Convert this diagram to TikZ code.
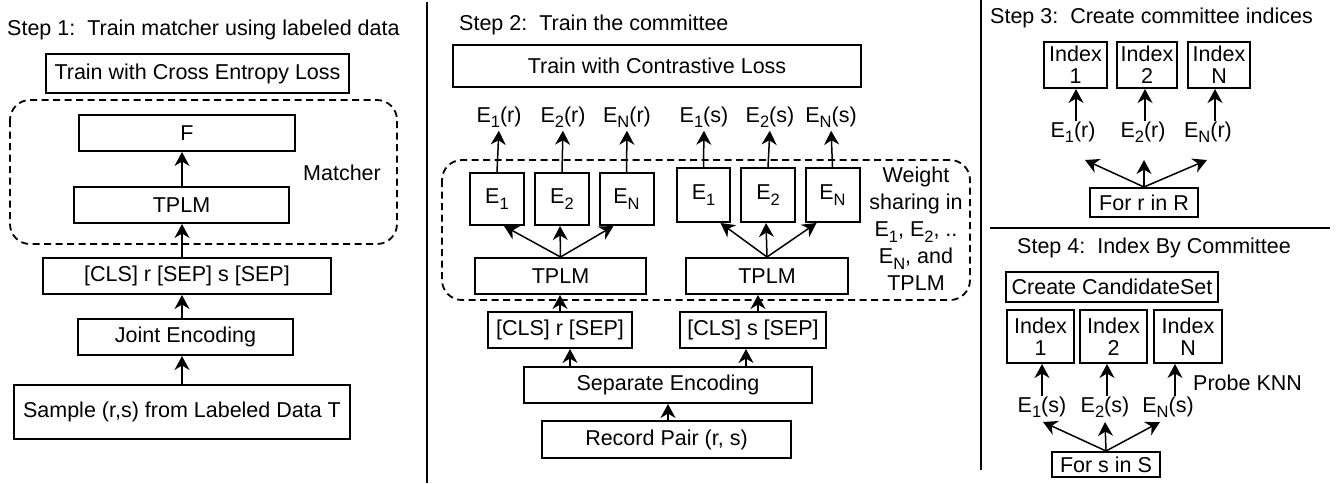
\documentclass[tikz,border=0pt]{standalone}
\usepackage{fontspec}
\setmainfont{Liberation Sans}
\usetikzlibrary{arrows.meta,calc}
\newcommand\sbs[1]{\raisebox{-5.5pt}{\fontsize{16.5}{16.5}\selectfont #1}}
\newcommand\mybox[6]{\node[box,minimum width=#4pt,minimum height=#5pt] (#1) at (#2,#3) {#6};}
\begin{document}
\begin{tikzpicture}[x=1pt,y=-1pt,
 font=\fontsize{21.5}{22}\selectfont,
 box/.style={draw,line width=2pt,inner sep=0pt,align=center},
 lbl/.style={inner sep=0pt},
 arr/.style={line width=1.5pt,-{Stealth[length=14pt,width=15pt,inset=4.5pt]}},
 dbox/.style={draw,line width=1.8pt,dash pattern=on 7pt off 4.5pt,rounded corners=20pt},
 divider/.style={line width=2.2pt}]
\useasboundingbox (0,0) rectangle (1338,483);

% ---------- Panel 1 ----------
\node[lbl,anchor=west] (t1) at (7,30) {Step 1:\ \ Train matcher using labeled data};
\draw[dbox] (10,100) rectangle (397,244);
\mybox{ce}{197.5}{73.5}{303}{39}{Train with Cross Entropy Loss}
\mybox{F}{187}{133}{216}{36}{F}
\mybox{tplmA}{181.5}{205}{215}{36}{TPLM}
\node[lbl] (matcher) at (342,173) {Matcher};
\mybox{clsA}{187}{276}{288}{36}{[CLS] r [SEP] s [SEP]}
\mybox{joint}{185.5}{337}{215}{36}{Joint Encoding}
\mybox{sample}{182}{412}{336}{54}{Sample (r,s) from Labeled Data T}
\draw[arr] ([xshift=0pt]sample.north) -- (sample.north |- joint.south);
\draw[arr] ([xshift=-3.5pt]joint.north) -- ([xshift=-3.5pt]joint.north |- clsA.south);
\draw[arr] ([xshift=-5pt]clsA.north) -- ([xshift=-5pt]clsA.north |- tplmA.south);
\draw[arr] ([xshift=0.5pt]tplmA.north) -- ([xshift=0.5pt]tplmA.north |- F.south);

\coordinate (d1a) at (426.7,2);
\coordinate (d1b) at (426.7,483);
\draw[divider] (d1a) -- (d1b);

% ---------- Panel 2 ----------
\node[lbl,anchor=west] (t2) at (459,25) {Step 2:\ \ Train the committee};
\mybox{cl}{657}{66}{408}{42}{Train with Contrastive Loss}
\draw[dbox] (442,160) rectangle (970,300);
\mybox{Eir}{497}{199}{54}{52}{E\sbs1}
\mybox{Eiir}{562}{199}{54}{52}{E\sbs2}
\mybox{ENr}{626.5}{199}{54}{52}{E\sbs N}
\mybox{Eis}{703.5}{195}{53}{54}{E\sbs1}
\mybox{Eiis}{768}{195}{54}{54}{E\sbs2}
\mybox{ENs}{832.5}{195}{54}{54}{E\sbs N}
\node[lbl] (lir) at (499,117) {E\sbs1(r)};
\node[lbl] (liir) at (563,117) {E\sbs2(r)};
\node[lbl] (lNr) at (627,117) {E\sbs N(r)};
\node[lbl] (lis) at (704,117) {E\sbs1(s)};
\node[lbl] (liis) at (770,117) {E\sbs2(s)};
\node[lbl] (lNs) at (831,117) {E\sbs N(s)};
\foreach \b/\l in {Eir/lir,Eiir/liir,ENr/lNr,Eis/lis,Eiis/liis,ENs/lNs}
  \draw[arr,shorten >=3pt] (\b.north) -- (\l.south);
\node[lbl,align=center,font=\fontsize{21.5}{27}\selectfont] (ws) at (916,229)
  {Weight\\sharing in\\E\sbs1, E\sbs2, ..\\E\sbs N, and\\TPLM};
\mybox{tplmr}{560.5}{276}{171}{36}{TPLM}
\mybox{tplms}{767}{276}{162}{36}{TPLM}
\draw[arr] (tplmr.north) -- ([xshift=7pt]Eir.south);
\draw[arr] (tplmr.north) -- ([xshift=-2pt]Eiir.south);
\draw[arr] (tplmr.north) -- ([xshift=-13pt]ENr.south);
\draw[arr] (tplms.north) -- ([xshift=17pt]Eis.south);
\draw[arr] (tplms.north) -- ([xshift=-2pt]Eiis.south);
\draw[arr] (tplms.north) -- ([xshift=-16pt]ENs.south);
\mybox{clsr}{560}{330}{144}{36}{[CLS] r [SEP]}
\mybox{clss}{753}{330}{146}{36}{[CLS] s [SEP]}
\draw[arr] (clsr.north) -- (clsr.north |- tplmr.south);
\draw[arr] ([xshift=5pt]clss.north) -- ([xshift=5pt]clss.north |- tplms.south);
\mybox{sep}{668}{385}{288}{36}{Separate Encoding}
\draw[arr] ([xshift=10pt]clsr.south |- sep.north) -- ([xshift=10pt]clsr.south);
\draw[arr] ([xshift=-7pt]clss.south |- sep.north) -- ([xshift=-7pt]clss.south);
\mybox{rec}{666.5}{439.5}{249}{37}{Record Pair (r, s)}
\draw[arr] ([xshift=1.5pt]rec.north) -- ([xshift=1.5pt]rec.north |- sep.south);

\coordinate (d2a) at (980.7,0);
\coordinate (d2b) at (980.7,470);
\draw[divider] (d2a) -- (d2b);

% ---------- Panel 3 ----------
\node[lbl,anchor=west] (t3) at (990,18) {Step 3:\ \ Create committee indices};
\mybox{Iir}{1075.5}{65}{63}{46}{Index\\1}
\mybox{Iiir}{1147}{65}{60}{46}{Index\\2}
\mybox{INr}{1219}{65}{62}{46}{Index\\N}
\node[lbl] (kir) at (1073,132) {E\sbs1(r)};
\node[lbl] (kiir) at (1143,132) {E\sbs2(r)};
\node[lbl] (kNr) at (1208,132) {E\sbs N(r)};
\draw[arr] ([xshift=3pt]kir.north) -- ([xshift=3pt]kir.north |- Iir.south);
\draw[arr] ([xshift=2pt]kiir.north) -- ([xshift=2pt]kiir.north |- Iiir.south);
\draw[arr] ([xshift=7pt]kNr.north) -- ([xshift=7pt]kNr.north |- INr.south);
\mybox{forr}{1144}{202.5}{108}{29}{For r in R}
\coordinate (fa) at (1085,160);
\coordinate (fb) at (1144,160);
\coordinate (fc) at (1207,160);
\draw[arr] (forr.north) -- (fa);
\draw[arr] (forr.north) -- (fb);
\draw[arr] (forr.north) -- (fc);
\coordinate (h1) at (990,228);
\coordinate (h2) at (1330,228);
\draw[divider] (h1) -- (h2);

% ---------- Panel 4 ----------
\node[lbl,anchor=west] (t4) at (1017,248) {Step 4:\ \ Index By Committee};
\mybox{cand}{1112}{287}{212}{30}{Create CandidateSet}
\mybox{Iis}{1040.5}{336.5}{67}{53}{Index\\1}
\mybox{Iiis}{1113.5}{336.5}{67}{53}{Index\\2}
\mybox{INs}{1188}{336.5}{68}{53}{Index\\N}
\node[lbl] (kis) at (1042,407) {E\sbs1(s)};
\node[lbl] (kiis) at (1105,407) {E\sbs2(s)};
\node[lbl] (kNs) at (1168,407) {E\sbs N(s)};
\draw[arr] (kis.north) -- (kis.north |- Iis.south);
\draw[arr] ([xshift=2pt]kiis.north) -- ([xshift=2pt]kiis.north |- Iiis.south);
\draw[arr] ([xshift=7pt]kNs.north) -- ([xshift=7pt]kNs.north |- INs.south);
\node[lbl,anchor=west] (probe) at (1193,383) {Probe KNN};
\mybox{fors}{1106}{464.5}{108}{25}{For s in S}
\coordinate (ga) at (1043,422);
\coordinate (gb) at (1105,422);
\coordinate (gc) at (1160,422);
\draw[arr] (fors.north) -- (ga);
\draw[arr] (fors.north) -- (gb);
\draw[arr] (fors.north) -- (gc);
\end{tikzpicture}
\end{document}
